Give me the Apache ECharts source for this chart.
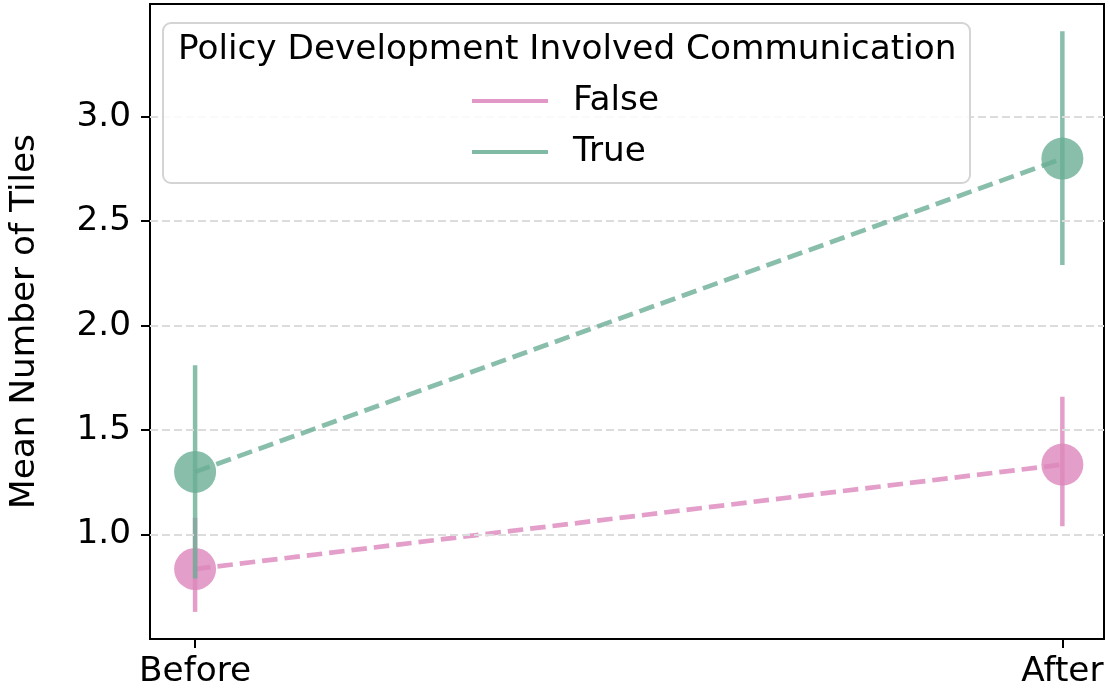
<!DOCTYPE html>
<html>
<head>
<meta charset="utf-8">
<script src="https://cdn.jsdelivr.net/npm/echarts@6/dist/echarts.min.js"></script>
<style>html,body{margin:0;padding:0;background:#fff}#c{width:1110px;height:690px}</style>
</head>
<body>
<div id="c"></div>
<script>
const phases = ['Before', 'After'];
const phaseX = [0, 1];
const yTicks = [1.0, 1.5, 2.0, 2.5, 3.0];
const falseMean = [0.835, 1.335];
const falseLow = [0.63, 1.04];
const falseHigh = [1.08, 1.66];
const trueMean = [1.30, 2.80];
const trueLow = [0.79, 2.29];
const trueHigh = [1.81, 3.41];
const legendTitle = 'Policy Development Involved Communication';

const FONT = 'DejaVu Sans';
const FS = 34.3;
const PINK = '#dc86bc';
const GREEN = '#6aae95';

function pts(means) { return phaseX.map((x, i) => [x, means[i]]); }
function errData(low, high) { return phaseX.map((x, i) => [x, low[i], high[i]]); }
function errSeries(name, low, high, color, z) {
  return {
    type: 'custom', name: name, z: z, silent: true,
    data: errData(low, high),
    renderItem: function (params, api) {
      const a = api.coord([api.value(0), api.value(1)]);
      const b = api.coord([api.value(0), api.value(2)]);
      return { type: 'line', shape: { x1: a[0], y1: a[1], x2: b[0], y2: b[1] },
        style: { stroke: color, lineWidth: 4.5, opacity: 0.8 } };
    }
  };
}
function lineSeries(name, means, color, z) {
  return {
    type: 'line', name: name, z: z, data: pts(means),
    symbol: 'circle', symbolSize: 42,
    itemStyle: { color: color, opacity: 0.8 },
    lineStyle: { color: color, width: 4.7, type: [15.5, 7], opacity: 0.8 },
    emphasis: { disabled: true }, animation: false
  };
}

const chart = echarts.init(document.getElementById('c'), null, { renderer: 'canvas' });
chart.setOption({
  animation: false,
  backgroundColor: '#ffffff',
  textStyle: { fontFamily: FONT },
  grid: { left: 145, right: 6, top: 4, bottom: 51, show: true, borderColor: '#000', borderWidth: 2, backgroundColor: 'transparent' },
  title: {
    text: legendTitle, left: 178, top: 30, padding: 0, z: 10,
    textStyle: { fontFamily: FONT, fontSize: FS, fontWeight: 'normal', color: '#000', lineHeight: 40 }
  },
  graphic: [{
    type: 'rect', z: 8, silent: true,
    shape: { x: 163, y: 23, width: 807, height: 160, r: 8 },
    style: { fill: 'rgba(255,255,255,0.85)', stroke: '#d4d4d4', lineWidth: 2 }
  }],
  legend: {
    orient: 'vertical', left: 472, top: 81, padding: 0, itemGap: 11, z: 10,
    itemWidth: 76, itemHeight: 4, icon: 'rect',
    selectedMode: false,
    textStyle: { fontFamily: FONT, fontSize: FS, color: '#000', lineHeight: 40, padding: [0, 0, 0, 20] },
    data: [
      { name: 'False', itemStyle: { color: PINK, opacity: 0.85 } },
      { name: 'True', itemStyle: { color: GREEN, opacity: 0.85 } }
    ]
  },
  xAxis: {
    type: 'value', min: -0.052, max: 1.048,
    axisLine: { show: true, onZero: false, lineStyle: { color: '#000', width: 2 } },
    axisTick: { show: true, customValues: phaseX, length: 9, lineStyle: { color: '#000', width: 2 } },
    axisLabel: { customValues: phaseX, formatter: v => phases[Math.round(v)], fontFamily: FONT, fontSize: FS, color: '#000', margin: 16 },
    splitLine: { show: false }
  },
  yAxis: {
    type: 'value', min: 0.5, max: 3.54,
    name: 'Mean Number of Tiles', nameLocation: 'middle', nameGap: 108,
    nameTextStyle: { fontFamily: FONT, fontSize: FS, color: '#000' },
    axisLine: { show: true, onZero: false, lineStyle: { color: '#000', width: 2 } },
    axisTick: { show: true, customValues: yTicks, length: 9, lineStyle: { color: '#000', width: 2 } },
    axisLabel: { customValues: yTicks, formatter: v => v.toFixed(1), fontFamily: FONT, fontSize: FS, color: '#000', margin: 19 },
    splitLine: { show: false }
  },
  series: [
    {
      type: 'line', name: 'grid', data: [], silent: true, z: 1,
      markLine: {
        silent: true, symbol: 'none', label: { show: false }, animation: false,
        lineStyle: { color: '#dcdcdc', width: 1.8, type: [8, 4] },
        data: yTicks.map(v => ({ yAxis: v }))
      }
    },
    errSeries('False', falseLow, falseHigh, PINK, 2),
    lineSeries('False', falseMean, PINK, 3),
    errSeries('True', trueLow, trueHigh, GREEN, 4),
    lineSeries('True', trueMean, GREEN, 5)
  ]
});
</script>
</body>
</html>
